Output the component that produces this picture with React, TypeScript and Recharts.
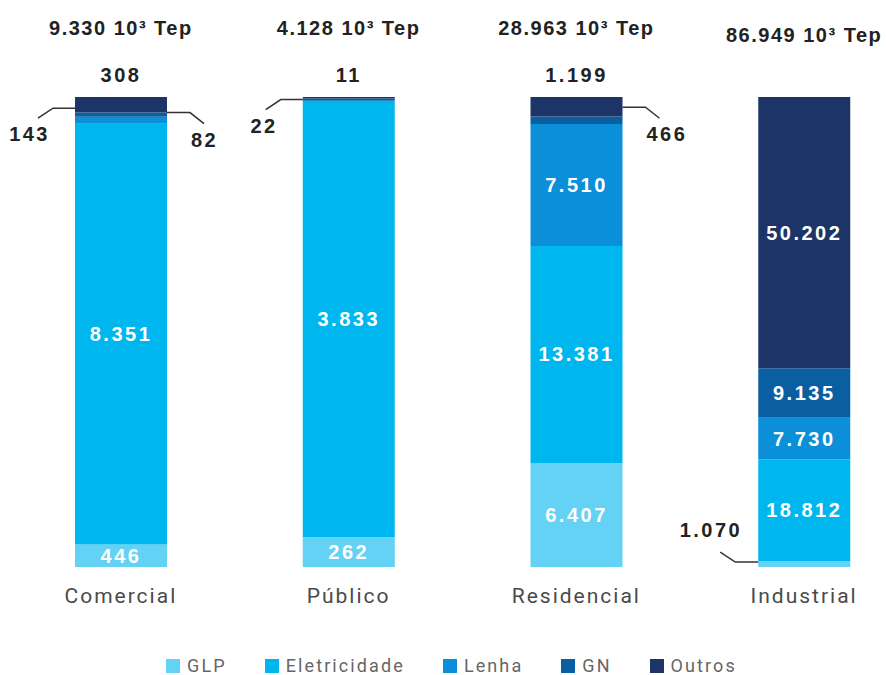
import React from 'react';
import { BarChart, Bar, XAxis, YAxis, Legend, LabelList } from 'recharts';

const categories = ['Comercial', 'Público', 'Residencial', 'Industrial'];
const glp = [446, 262, 6407, 1070];
const eletricidade = [8351, 3833, 13381, 18812];
const lenha = [143, 0, 7510, 7730];
const gn = [82, 22, 466, 9135];
const outros = [308, 11, 1199, 50202];
const totals = [9330, 4128, 28963, 86949];

const series = [
  { key: 'glp', name: 'GLP', color: '#63d2f5', values: glp },
  { key: 'eletricidade', name: 'Eletricidade', color: '#00b6ee', values: eletricidade },
  { key: 'lenha', name: 'Lenha', color: '#0a8fd8', values: lenha },
  { key: 'gn', name: 'GN', color: '#0a5fa3', values: gn },
  { key: 'outros', name: 'Outros', color: '#1c3566', values: outros },
];

// small segments get their label outside the bar, with a leader line
const outside: Record<string, { pos: 'top' | 'left' | 'right' | 'leftUp'; dy?: number }> = {
  'Comercial|outros': { pos: 'top' },
  'Comercial|lenha': { pos: 'left', dy: -12 },
  'Comercial|gn': { pos: 'right', dy: -2 },
  'Público|outros': { pos: 'top' },
  'Público|gn': { pos: 'left', dy: 0 },
  'Residencial|outros': { pos: 'top' },
  'Residencial|gn': { pos: 'right', dy: -13 },
  'Industrial|glp': { pos: 'leftUp', dy: -2 },
};

const data = categories.map((name, i) => {
  const row: any = { name };
  series.forEach((s) => (row[s.key] = s.values[i]));
  return row;
});

const fmt = (n: number) => n.toString().replace(/\B(?=(\d{3})+(?!\d))/g, '.');

const numFont = {
  fontFamily: '"Liberation Sans", Arial, sans-serif',
  fontWeight: 700,
  fontSize: 20,
  letterSpacing: 2.5,
};

const makeLabel = (key: string) => (props: any) => {
  const vb = props.viewBox || props;
  const { x, y, width, height } = vb;
  // value is "category|raw" (see dataKey below) so empty segments can't shift the index
  const [cat, rawStr] = String(props.value).split('|');
  const raw = Number(rawStr);
  if (!raw) return null;
  const text = fmt(raw);
  const spec = outside[`${cat}|${key}`];
  const cx = x + width / 2;
  const cy = y + height / 2;
  if (!spec) {
    return (
      <text x={cx} y={cy} fill="#fff" textAnchor="middle" dominantBaseline="central" style={numFont}>
        {text}
      </text>
    );
  }
  const sy = cy + (spec.dy || 0);
  if (spec.pos === 'top') {
    return (
      <text x={cx} y={y - 22} fill="#222" textAnchor="middle" dominantBaseline="central" style={numFont}>
        {text}
      </text>
    );
  }
  if (spec.pos === 'left') {
    const sx = x;
    return (
      <g>
        <path d={`M${sx},${sy}H${sx - 22}L${sx - 37},${sy + 10}`} stroke="#333" strokeWidth={1.5} fill="none" />
        <text x={sx - 25} y={sy + 26} fill="#222" textAnchor="end" dominantBaseline="central" style={numFont}>
          {text}
        </text>
      </g>
    );
  }
  if (spec.pos === 'right') {
    const sx = x + width;
    return (
      <g>
        <path d={`M${sx},${sy}H${sx + 23}L${sx + 37},${sy + 11}`} stroke="#333" strokeWidth={1.5} fill="none" />
        <text x={sx + 24} y={sy + 27} fill="#222" textAnchor="start" dominantBaseline="central" style={numFont}>
          {text}
        </text>
      </g>
    );
  }
  const sx = x;
  return (
    <g>
      <path d={`M${sx},${sy}H${sx - 23}L${sx - 38},${sy - 10}`} stroke="#333" strokeWidth={1.5} fill="none" />
      <text x={sx - 16} y={sy - 32} fill="#222" textAnchor="end" dominantBaseline="central" style={numFont}>
        {text}
      </text>
    </g>
  );
};

const CategoryTick = (props: any) => {
  const { x, y, payload } = props;
  return (
    <text
      x={x}
      y={y + 21}
      textAnchor="middle"
      dominantBaseline="central"
      fill="#4a4a4a"
      style={{ fontFamily: 'Roboto, sans-serif', fontSize: 21, letterSpacing: 2 }}
    >
      {payload.value}
    </text>
  );
};

const TotalTick = (props: any) => {
  const { x, index } = props;
  return (
    <text
      x={x}
      y={index === 3 ? 35 : 28}
      textAnchor="middle"
      dominantBaseline="central"
      fill="#222"
      style={{ ...numFont, letterSpacing: 1.5 }}
    >
      {`${fmt(totals[index])} 10³ Tep`}
    </text>
  );
};

const renderLegend = () => (
  <div
    style={{
      display: 'flex',
      justifyContent: 'center',
      paddingLeft: 16,
      fontFamily: 'Roboto, sans-serif',
      fontSize: 18,
      lineHeight: '20px',
      color: '#666',
      letterSpacing: 2.1,
    }}
  >
    {series.map((s) => (
      <span key={s.key} style={{ display: 'flex', alignItems: 'center', margin: '0 19px' }}>
        <span style={{ width: 14, height: 14, background: s.color, display: 'inline-block', marginRight: 7 }} />
        {s.name}
      </span>
    ))}
  </div>
);

export default function App() {
  return (
    <div
      style={{
        position: 'absolute',
        left: 0,
        top: 0,
        width: 887,
        height: 675,
        overflow: 'hidden',
        background: '#fff',
      }}
    >
      <BarChart
        width={918}
        height={675}
        data={data}
        stackOffset="expand"
        margin={{ top: 67, right: 0, bottom: 58, left: 7 }}
      >
        <XAxis dataKey="name" axisLine={false} tickLine={false} tick={<CategoryTick />} interval={0} height={30} />
        <XAxis
          dataKey="name"
          xAxisId="top"
          orientation="top"
          axisLine={false}
          tickLine={false}
          tick={<TotalTick />}
          interval={0}
          height={30}
        />
        <YAxis hide domain={[0, 1]} />
        <Legend
          content={renderLegend}
          wrapperStyle={{ position: 'absolute', top: 656, left: 0, width: 887, bottom: 'auto' }}
        />
        {series.map((s) => (
          <Bar
            key={s.key}
            dataKey={s.key}
            name={s.name}
            stackId="a"
            fill={s.color}
            barSize={92}
            isAnimationActive={false}
          >
            <LabelList dataKey={(row: any) => `${row.name}|${row[s.key]}`} content={makeLabel(s.key)} />
          </Bar>
        ))}
      </BarChart>
    </div>
  );
}
